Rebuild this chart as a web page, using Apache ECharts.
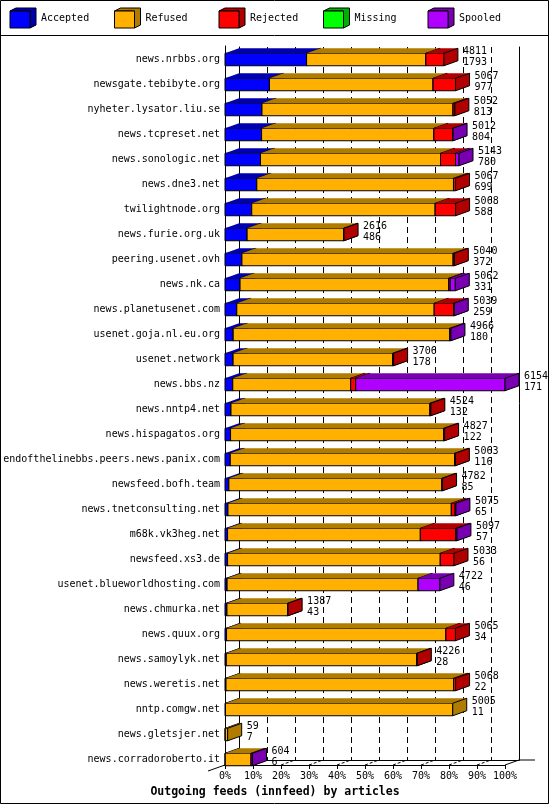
<!DOCTYPE html>
<html>
<head>
<meta charset="utf-8">
<title>Outgoing feeds (innfeed) by articles</title>
<script src="https://cdn.jsdelivr.net/npm/echarts@6/dist/echarts.min.js"></script>
<style>
    html, body { margin: 0; padding: 0; background: #fff; }
    #main { width: 550px; height: 805px; }
</style>
</head>
<body>
<div id="main"></div>
<script type="text/javascript">
// feeds, top to bottom
var hosts = ['news.nrbbs.org', 'newsgate.tebibyte.org', 'nyheter.lysator.liu.se', 'news.tcpreset.net',
    'news.sonologic.net', 'news.dne3.net', 'twilightnode.org', 'news.furie.org.uk', 'peering.usenet.ovh',
    'news.nk.ca', 'news.planetusenet.com', 'usenet.goja.nl.eu.org', 'usenet.network', 'news.bbs.nz',
    'news.nntp4.net', 'news.hispagatos.org', 'endofthelinebbs.peers.news.panix.com', 'newsfeed.bofh.team',
    'news.tnetconsulting.net', 'm68k.vk3heg.net', 'newsfeed.xs3.de', 'usenet.blueworldhosting.com',
    'news.chmurka.net', 'news.quux.org', 'news.samoylyk.net', 'news.weretis.net', 'nntp.comgw.net',
    'news.gletsjer.net', 'news.corradoroberto.it'];
var totals   = [4811, 5067, 5052, 5012, 5143, 5067, 5068, 2616, 5040, 5062, 5039, 4966, 3706, 6154, 4524,
    4827, 5063, 4782, 5075, 5097, 5033, 4722, 1387, 5065, 4226, 5068, 5005, 59, 604];
var accepted = [1793, 977, 813, 804, 780, 699, 588, 486, 372, 331, 259, 180, 178, 171, 132,
    122, 116, 85, 65, 57, 56, 46, 43, 34, 28, 22, 11, 7, 6];
var refused  = [2622, 3596, 4199, 3788, 3957, 4323, 4032, 2122, 4643, 4582, 4340, 4761, 3508, 2591, 4372,
    4685, 4932, 4682, 4910, 4237, 4676, 4199, 1334, 4822, 4188, 5001, 4994, 52, 568];
var rejected = [396, 494, 40, 410, 330, 45, 448, 8, 25, 37, 425, 0, 20, 110, 20,
    20, 15, 15, 85, 780, 301, 0, 10, 209, 10, 45, 0, 0, 0];
var missing  = [0, 0, 0, 0, 0, 0, 0, 0, 0, 0, 0, 0, 0, 0, 0,
    0, 0, 0, 0, 0, 0, 0, 0, 0, 0, 0, 0, 0, 0];
var spooled  = [0, 0, 0, 10, 76, 0, 0, 0, 0, 112, 15, 25, 0, 3282, 0,
    0, 0, 0, 15, 23, 0, 477, 0, 0, 0, 0, 0, 0, 30];
var xTicks = [0, 10, 20, 30, 40, 50, 60, 70, 80, 90, 100];

var seriesNames = ['Accepted', 'Refused', 'Rejected', 'Missing', 'Spooled'];
var frontColors = ['#0000ff', '#ffb000', '#ff0000', '#00ff00', '#b000ff'];
var sideColors  = ['#0000b0', '#b07c00', '#b00000', '#00b000', '#7800b0'];
var segValues = [accepted, refused, rejected, missing, spooled];

var DX = 14, DY = 5, BAR_H = 12.5;
var FONT = 'DejaVu Sans Mono';
var maxTotal = Math.max.apply(null, totals);

function pct(v) {
    return v / maxTotal * 100;
}

// [start %, end %, row] for one stacked segment
function segmentData(k) {
    return hosts.map(function (h, i) {
        var start = 0;
        for (var j = 0; j < k; j++) start += segValues[j][i];
        return [pct(start), pct(start + segValues[k][i]), i];
    });
}

// 3d box: front, top, right side
function renderSegment(k) {
    return function (params, api) {
        var x0 = api.value(0), x1 = api.value(1), row = api.value(2);
        if (x1 <= x0) return null;
        var a = api.coord([x0, row]);
        var b = api.coord([x1, row]);
        var yt = a[1] - BAR_H / 2, yb = a[1] + BAR_H / 2;
        var xl = a[0], xr = b[0];
        return {
            type: 'group',
            children: [
                { type: 'rect', shape: { x: xl, y: yt, width: xr - xl, height: BAR_H },
                  style: { fill: frontColors[k], stroke: '#000', lineWidth: 1 } },
                { type: 'polygon', shape: { points: [[xl, yt], [xl + DX, yt - DY], [xr + DX, yt - DY], [xr, yt]] },
                  style: { fill: sideColors[k] } },
                { type: 'polygon', shape: { points: [[xr, yt], [xr + DX, yt - DY], [xr + DX, yb - DY], [xr, yb]] },
                  style: { fill: sideColors[k], stroke: '#000', lineWidth: 1 } }
            ]
        };
    };
}

var series = seriesNames.map(function (name, k) {
    return {
        name: name,
        type: 'custom',
        xAxisIndex: 0,
        yAxisIndex: 0,
        z: 3 + k,
        itemStyle: { color: frontColors[k] },
        encode: { x: [0, 1], y: 2 },
        renderItem: renderSegment(k),
        data: segmentData(k)
    };
});

// total / accepted printed at the end of each bar
series.push({
    type: 'custom',
    xAxisIndex: 0,
    yAxisIndex: 0,
    z: 10,
    encode: { x: 0, y: 1 },
    renderItem: function (params, api) {
        var i = params.dataIndex;
        var p = api.coord([api.value(0), api.value(1)]);
        return {
            type: 'text',
            x: p[0] + DX + 5,
            y: p[1] - 3,
            style: {
                text: totals[i] + '\n' + accepted[i],
                fill: '#000',
                font: '10px "' + FONT + '"',
                lineHeight: 11,
                verticalAlign: 'middle',
                align: 'left'
            }
        };
    },
    data: totals.map(function (t, i) { return [pct(t), i]; })
});

// 3d floor: slanted connectors from front axis to back plane
series.push({
    type: 'custom',
    xAxisIndex: 2,
    yAxisIndex: 2,
    z: 1,
    encode: { x: 0 },
    renderItem: function (params, api) {
        var v = api.value(0);
        var p = api.coord([v, 0]);
        var kids = [];
        var solid = (v === 0 || v === 100);
        kids.push({ type: 'line', shape: { x1: p[0], y1: p[1], x2: p[0] + DX, y2: p[1] - DY },
            style: { stroke: '#000', lineWidth: 1, lineDash: solid ? null : [3, 2] } });
        if (v === 0) {
            kids.push({ type: 'line', shape: { x1: p[0] - 17, y1: p[1] + 6, x2: p[0], y2: p[1] },
                style: { stroke: '#000', lineWidth: 1 } });
        }
        if (v === 100) {
            kids.push({ type: 'line', shape: { x1: p[0] + DX, y1: p[1] - DY, x2: p[0] + DX + 16, y2: p[1] - DY },
                style: { stroke: '#000', lineWidth: 1 } });
        }
        return { type: 'group', children: kids };
    },
    data: xTicks.map(function (t) { return [t]; })
});

// frame, separator and the darker faces of the legend boxes
var graphics = [
    { type: 'rect', shape: { x: 0.5, y: 0.5, width: 548, height: 803 }, style: { fill: null, stroke: '#000', lineWidth: 1 } },
    { type: 'line', shape: { x1: 0, y1: 35.5, x2: 549, y2: 35.5 }, style: { stroke: '#000', lineWidth: 1 } }
];
var legends = [];
seriesNames.forEach(function (name, k) {
    var x0 = 10 + 104.5 * k;
    legends.push({
        data: [name],
        left: x0,
        top: 8,
        padding: 0,
        itemWidth: 26,
        itemHeight: 20,
        icon: 'path://M0,3 L6,0 L26,0 L26,17 L20,20 L0,20 Z',
        selectedMode: false,
        textStyle: { fontFamily: FONT, fontSize: 10, color: '#000', padding: [3, 0, 0, 0] }
    });
    graphics.push({ type: 'polygon', z: 100,
        shape: { points: [[x0, 11], [x0 + 6, 8], [x0 + 26, 8], [x0 + 26, 25], [x0 + 20, 28], [x0 + 20, 11]] },
        style: { fill: sideColors[k], stroke: '#000', lineWidth: 1 } });
    graphics.push({ type: 'rect', z: 101,
        shape: { x: x0, y: 11, width: 20, height: 17 },
        style: { fill: frontColors[k], stroke: '#000', lineWidth: 1 } });
});

var chart = echarts.init(document.getElementById('main'));
chart.setOption({
    animation: false,
    backgroundColor: '#fff',
    title: {
        text: 'Outgoing feeds (innfeed) by articles',
        left: 'center',
        top: 786,
        padding: 0,
        textStyle: { fontFamily: FONT, fontWeight: 'bold', fontSize: 11.5, color: '#000' }
    },
    legend: legends,
    graphic: graphics,
    grid: [
        { left: 225, width: 280, top: 47, height: 725 },   // bars
        { left: 239, width: 280, top: 47, bottom: 45 },    // back plane
        { left: 225, width: 280, top: 46, bottom: 40 }     // front floor axis
    ],
    xAxis: [
        { gridIndex: 0, type: 'value', min: 0, max: 100, show: false },
        { gridIndex: 1, type: 'value', min: 0, max: 100, interval: 10,
          axisLine: { show: true, onZero: false, lineStyle: { color: '#000', width: 1 } },
          axisTick: { show: false }, axisLabel: { show: false },
          splitLine: { show: true, lineStyle: { color: '#000', width: 1, type: [6, 4] } } },
        { gridIndex: 2, type: 'value', min: 0, max: 100, interval: 10,
          axisLine: { show: true, onZero: false, lineStyle: { color: '#000', width: 1 } },
          axisTick: { show: true, length: 4, lineStyle: { color: '#000' } },
          axisLabel: { formatter: '{value}%', margin: 6, fontFamily: FONT, fontSize: 10, color: '#000' },
          splitLine: { show: false } }
    ],
    yAxis: [
        { gridIndex: 0, type: 'category', data: hosts, inverse: true,
          axisLine: { show: false }, axisTick: { show: false },
          axisLabel: { margin: 5, fontFamily: FONT, fontSize: 10, color: '#000' } },
        { gridIndex: 1, type: 'value', min: 0, max: 1, position: 'left',
          axisLine: { show: true, onZero: false, lineStyle: { color: '#000', width: 1 } },
          axisTick: { show: false }, axisLabel: { show: false }, splitLine: { show: false } },
        { gridIndex: 2, type: 'value', min: 0, max: 1, position: 'left',
          axisLine: { show: true, onZero: false, lineStyle: { color: '#000', width: 1 } },
          axisTick: { show: false }, axisLabel: { show: false }, splitLine: { show: false } },
        { gridIndex: 1, type: 'value', min: 0, max: 1, position: 'right',
          axisLine: { show: true, onZero: false, lineStyle: { color: '#000', width: 1 } },
          axisTick: { show: false }, axisLabel: { show: false }, splitLine: { show: false } }
    ],
    series: series
});
</script>
</body>
</html>
